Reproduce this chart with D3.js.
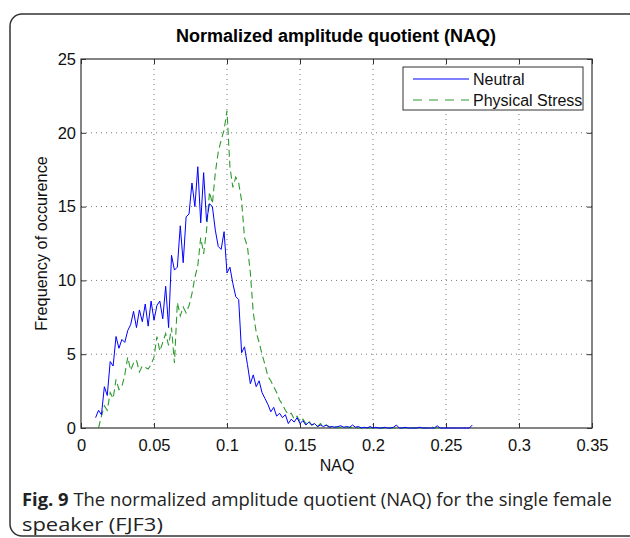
<!DOCTYPE html>
<html>
<head>
<meta charset="utf-8">
<title>NAQ</title>
<script src="https://cdn.jsdelivr.net/npm/d3@7"></script>
<style>
  body { margin: 0; background: #fff; }
  svg text { font-family: "Liberation Sans", Arial, sans-serif; }
</style>
</head>
<body>
<div id="chart"></div>
<script>
// bin step 0.002
var neutralStart = 0.010;
var neutral = [
  0.7, 1.2, 0.9, 2.8, 2.2, 4.5, 4.2, 6.2, 5.4, 6.0,
  5.8, 6.6, 7.0, 7.9, 6.8, 8.0, 7.2, 8.4, 6.9, 8.6,
  7.3, 8.3, 8.6, 7.4, 9.6, 6.8, 11.7, 10.7, 10.9, 13.7,
  11.2, 14.3, 14.5, 16.6, 15.0, 17.7, 13.9, 17.3, 14.0, 15.2,
  15.0, 13.4, 12.3, 12.1, 13.3, 10.5, 10.9, 9.8, 8.9, 8.7,
  5.1, 5.5, 4.3, 3.0, 3.6, 2.8, 3.2, 2.4, 2.0, 1.6,
  1.1, 1.4, 0.8, 1.0, 0.7, 0.9, 0.3, 0.6, 0.4, 0.7,
  0.3, 0.5, 0.2, 0.4, 0.2, 0.3, 0.1, 0.2, 0.1, 0.2,
  0.05, 0.1, 0.05, 0.1, 0.15, 0.05, 0.1, 0.05, 0.2, 0.05,
  0.1, 0.0, 0.05, 0.0, 0.1, 0.0, 0.05, 0.0, 0.0, 0.05,
  0.0, 0.0, 0.05, 0.2, 0.0, 0.0, 0.05, 0.0, 0.0, 0.0,
  0.0, 0.05, 0.0, 0.0, 0.0, 0.0, 0.0, 0.15, 0.0, 0.0,
  0.0, 0.0, 0.0, 0.0, 0.0, 0.0, 0.0, 0.0, 0.0, 0.2
];
var stressStart = 0.012;
var stress = [
  0.0, 0.8, 1.5, 1.2, 2.4, 2.0, 3.3, 2.6, 2.8, 3.6,
  4.8, 3.9, 4.4, 4.6, 3.8, 4.2, 4.1, 4.0, 4.3, 4.8,
  6.2, 5.2, 5.8, 6.4, 5.6, 6.8, 4.4, 8.5, 7.6, 8.2,
  7.8, 8.3, 9.1, 10.2, 11.0, 12.9, 11.8, 13.4, 16.0, 15.2,
  17.3, 18.7, 19.5, 20.2, 21.5, 17.7, 16.3, 17.0, 16.6, 15.4,
  12.9, 12.3, 10.5, 7.8, 6.5, 5.8, 5.0, 4.3, 3.5, 3.2,
  2.8, 2.4, 1.9, 1.6, 1.2, 0.9, 1.0, 0.6, 0.8, 0.4,
  0.6, 0.3, 0.5, 0.2, 0.3, 0.1, 0.3, 0.1, 0.2, 0.1,
  0.05, 0.1, 0.0, 0.05, 0.1, 0.0, 0.05, 0.0, 0.05, 0.0,
  0.0, 0.05, 0.0, 0.0, 0.0, 0.05, 0.0, 0.0, 0.0, 0.0,
  0.0, 0.0, 0.0, 0.0, 0.0, 0.0, 0.0, 0.0, 0.0, 0.0,
  0.0, 0.0, 0.0, 0.0, 0.1, 0.0, 0.0, 0.0, 0.0
];
var xTicks = [0, 0.05, 0.1, 0.15, 0.2, 0.25, 0.3, 0.35];
var yTicks = [0, 5, 10, 15, 20, 25];
var seriesNames = ["Neutral", "Physical Stress"];

var width = 630, height = 538;
var plot = { left: 81, top: 59, right: 592, bottom: 428 };

var svg = d3.select("#chart").append("svg")
    .attr("width", width)
    .attr("height", height);

// outer rounded frame
svg.append("rect")
    .attr("x", 10).attr("y", 14)
    .attr("width", 640).attr("height", 522)
    .attr("rx", 12).attr("ry", 12)
    .style("fill", "none")
    .style("stroke", "#333")
    .style("stroke-width", 1.5);

var x = d3.scaleLinear().domain([0, 0.35]).range([plot.left, plot.right]);
var y = d3.scaleLinear().domain([0, 25]).range([plot.bottom, plot.top]);

// grid
var grid = svg.append("g").attr("class", "grid");
grid.selectAll(".vg").data(xTicks.slice(1, -1)).enter().append("line")
    .attr("x1", function(d) { return x(d); }).attr("x2", function(d) { return x(d); })
    .attr("y1", plot.top).attr("y2", plot.bottom);
grid.selectAll(".hg").data(yTicks.slice(1, -1)).enter().append("line")
    .attr("y1", function(d) { return y(d); }).attr("y2", function(d) { return y(d); })
    .attr("x1", plot.left).attr("x2", plot.right);
grid.selectAll("line")
    .style("stroke", "#777")
    .style("stroke-width", 1)
    .style("stroke-dasharray", "1,4");

// axes with inward ticks
function styleAxis(g) {
  g.select(".domain").remove();
  g.selectAll("line").style("stroke", "#333");
  g.selectAll("text").style("font-size", "16.5px").style("fill", "#111")
    .style("font-family", "'Liberation Sans', Arial, sans-serif");
}
svg.append("g").attr("transform", "translate(0," + plot.bottom + ")")
    .call(d3.axisBottom(x).tickValues(xTicks).tickSize(-5).tickPadding(11)
      .tickFormat(function(d) { return d3.format("~g")(d); }))
    .call(styleAxis);
svg.append("g").attr("transform", "translate(0," + plot.top + ")")
    .call(d3.axisTop(x).tickValues(xTicks).tickSize(-5).tickFormat(""))
    .call(styleAxis);
svg.append("g").attr("transform", "translate(" + plot.left + ",0)")
    .call(d3.axisLeft(y).tickValues(yTicks).tickSize(-5).tickPadding(5))
    .call(styleAxis);
svg.append("g").attr("transform", "translate(" + plot.right + ",0)")
    .call(d3.axisRight(y).tickValues(yTicks).tickSize(-5).tickFormat(""))
    .call(styleAxis);

svg.append("rect")
    .attr("x", plot.left).attr("y", plot.top)
    .attr("width", plot.right - plot.left).attr("height", plot.bottom - plot.top)
    .style("fill", "none").style("stroke", "#333").style("stroke-width", 1.2);

// lines
var line = d3.line()
    .x(function(d) { return x(d[0]); })
    .y(function(d) { return y(d[1]); });

function toPoints(start, vals) {
  return vals.map(function(v, i) { return [start + i * 0.002, v]; });
}

svg.append("path")
    .datum(toPoints(stressStart, stress))
    .attr("d", line)
    .style("fill", "none").style("stroke", "#2f9a2f")
    .style("stroke-width", 1.1).style("stroke-dasharray", "7,4");

svg.append("path")
    .datum(toPoints(neutralStart, neutral))
    .attr("d", line)
    .style("fill", "none").style("stroke", "#0000ff")
    .style("stroke-width", 1);

// legend
var lg = svg.append("g").attr("transform", "translate(403,67)");
lg.append("rect").attr("width", 180).attr("height", 43)
    .style("fill", "#fff").style("stroke", "#333").style("stroke-width", 1);
var colors = ["#0000ff", "#2f9a2f"];
var dashes = ["none", "9,7"];
seriesNames.forEach(function(name, i) {
  var yy = 12 + i * 21;
  lg.append("line").attr("x1", 10).attr("x2", 66).attr("y1", yy).attr("y2", yy)
      .style("stroke", colors[i]).style("stroke-width", 1.1)
      .style("stroke-dasharray", dashes[i]);
  lg.append("text").attr("x", 70).attr("y", yy + 6).text(name)
      .style("font-size", "16px").style("fill", "#111");
});

// titles
svg.append("text").attr("x", 336).attr("y", 42).attr("text-anchor", "middle")
    .text("Normalized amplitude quotient (NAQ)")
    .style("font-size", "18px").style("font-weight", "bold").style("fill", "#000");

svg.append("text").attr("x", 337).attr("y", 471).attr("text-anchor", "middle")
    .text("NAQ").style("font-size", "16px").style("fill", "#111");

svg.append("text")
    .attr("transform", "translate(47," + ((plot.top + plot.bottom) / 2) + ") rotate(-90)")
    .attr("text-anchor", "middle")
    .text("Frequency of occurence").style("font-size", "16.3px").style("fill", "#111");

// caption, each line squeezed to the reference width
var capFont = "'Open Sans', 'Noto Sans', sans-serif";
function fitLine(sel, targetW) {
  var w = sel.node().getComputedTextLength();
  sel.attr("transform", "translate(22,0) scale(" + (targetW / w) + ",1)");
}
var cap1 = svg.append("text").attr("y", 506)
    .style("font-family", capFont).style("font-size", "18.5px").style("fill", "#222");
cap1.append("tspan").style("font-weight", "bold").text("Fig. 9");
cap1.append("tspan").text(" The normalized amplitude quotient (NAQ) for the single female");
fitLine(cap1, 590);

var cap2 = svg.append("text").attr("y", 531)
    .style("font-family", capFont).style("font-size", "18.5px").style("fill", "#222")
    .text("speaker (FJF3)");
fitLine(cap2, 141);
</script>
</body>
</html>
